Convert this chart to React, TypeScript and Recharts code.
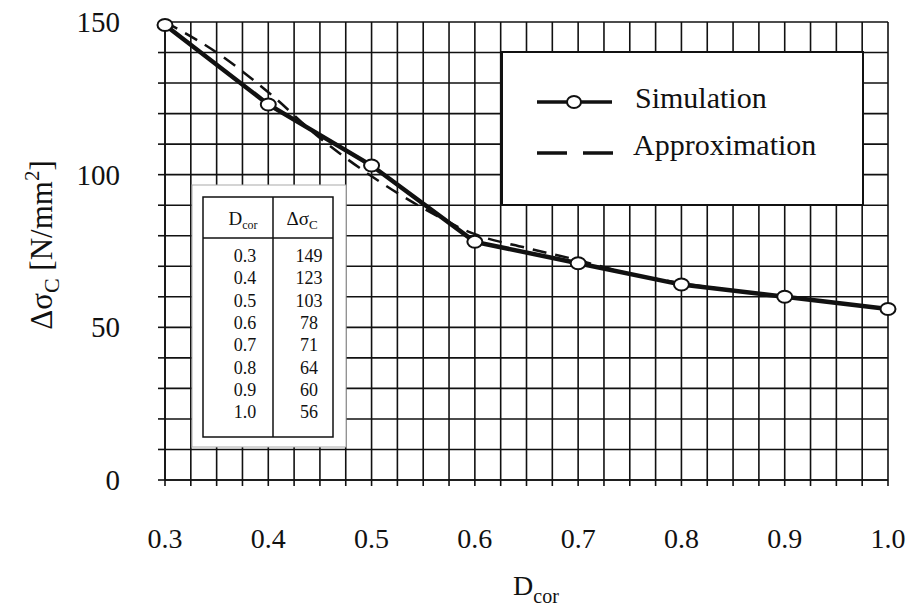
import { LineChart, Line, XAxis, YAxis, CartesianGrid } from 'recharts'

// simulated crack-stress values per D_cor
const dCor = [0.3, 0.4, 0.5, 0.6, 0.7, 0.8, 0.9, 1.0]
const simulation = [149, 123, 103, 78, 71, 64, 60, 56]

// fitted approximation curve
const approxD = [0.3, 0.35, 0.4, 0.45, 0.5, 0.55, 0.6, 0.65, 0.7, 0.75, 0.8, 0.85, 0.9, 0.95, 1.0]
const approximation = [150, 140, 127, 112, 99.5, 89, 80.5, 76, 72, 67.5, 64.5, 62, 60, 58, 56]

// labelled ticks
const xLabels = [0.3, 0.4, 0.5, 0.6, 0.7, 0.8, 0.9, 1.0]
const yLabels = [0, 50, 100, 150]

// grid spacing: 0.025 in x, 10 in y
const xGrid = Array.from({ length: 29 }, (_, i) => Math.round((0.3 + i * 0.025) * 1000) / 1000)
const yGrid = Array.from({ length: 16 }, (_, i) => i * 10)

const simData = dCor.map((x, i) => ({ x, y: simulation[i] }))
const approxData = approxD.map((x, i) => ({ x, y: approximation[i] }))

const FONT = '"Liberation Serif", "Times New Roman", serif'
const INK = '#111'
const serif = { fontFamily: FONT }

function XTick({ x, y, payload }: any) {
  const v = payload.value
  if (!xLabels.some((l) => Math.abs(l - v) < 1e-6)) return <g />
  return (
    <text x={x} y={y + 62} textAnchor="middle" style={serif} fontSize={28} fill={INK}>
      {v.toFixed(1)}
    </text>
  )
}

function YTick({ x, y, payload }: any) {
  const v = payload.value
  if (!yLabels.includes(v)) return <g />
  return (
    <text x={x - 38} y={y} dy={10} textAnchor="end" style={serif} fontSize={29} fill={INK}>
      {v}
    </text>
  )
}

function SimDot({ cx, cy }: any) {
  return <ellipse cx={cx} cy={cy} rx={7.5} ry={6} fill="#fff" stroke={INK} strokeWidth={2} />
}

function Overlay() {
  return (
    <svg width={908} height={609} style={{ position: 'absolute', left: 0, top: 0, pointerEvents: 'none', ...serif }}>
      {/* axis titles */}
      <text transform="translate(52,245) rotate(-90)" textAnchor="middle" style={serif} fontSize={31} fill={INK}>
        Δσ<tspan fontSize={22} dy={7}>C</tspan>
        <tspan dy={-7}>{'  [N/mm'}</tspan>
        <tspan fontSize={21} dy={-13}>2</tspan>
        <tspan dy={13}>]</tspan>
      </text>
      <text x={536} y={595} textAnchor="middle" style={serif} fontSize={28} fill={INK}>
        D<tspan fontSize={20} dy={8}>cor</tspan>
      </text>

      {/* legend */}
      <rect x={502} y={52} width={361} height={153} fill="#fff" stroke={INK} strokeWidth={2} />
      <line x1={537} x2={612} y1={102} y2={102} stroke={INK} strokeWidth={3.5} />
      <ellipse cx={574} cy={102} rx={7} ry={6} fill="#fff" stroke={INK} strokeWidth={2} />
      <text x={635} y={108} style={serif} fontSize={30} fill={INK}>Simulation</text>
      <line x1={537} x2={613} y1={153} y2={153} stroke={INK} strokeWidth={3.5} strokeDasharray="30 16" />
      <text x={633} y={155} style={serif} fontSize={30} fill={INK}>Approximation</text>

      {/* value table */}
      <rect x={192} y={185} width={154} height={262} fill="#fff" stroke="#aaa" strokeWidth={1} />
      <rect x={203} y={197} width={130} height={240} fill="#fff" stroke={INK} strokeWidth={1.5} />
      <line x1={273} x2={273} y1={197} y2={437} stroke={INK} strokeWidth={1.5} />
      <line x1={203} x2={333} y1={238} y2={238} stroke={INK} strokeWidth={1.5} />
      <text x={243} y={225} textAnchor="middle" style={serif} fontSize={19} fill={INK}>
        D<tspan fontSize={12} dy={4}>cor</tspan>
      </text>
      <text x={302} y={225} textAnchor="middle" style={serif} fontSize={19} fill={INK}>
        Δσ<tspan fontSize={13} dy={4}>C</tspan>
      </text>
      {dCor.map((d, i) => (
        <g key={d} style={serif} fontSize={18} fill={INK}>
          <text x={245} y={262 + i * 22.3} textAnchor="middle">{d.toFixed(1)}</text>
          <text x={309} y={262 + i * 22.3} textAnchor="middle">{simulation[i]}</text>
        </g>
      ))}
    </svg>
  )
}

export default function App() {
  return (
    <div style={{ position: 'absolute', left: 0, top: 0, width: 908, height: 609, background: '#fff', ...serif }}>
      <LineChart width={908} height={609} margin={{ top: 22, right: 20, bottom: 29, left: 65 }}>
        <CartesianGrid stroke={INK} strokeWidth={1.6} />
        <XAxis
          type="number"
          dataKey="x"
          domain={[0.3, 1.0]}
          ticks={xGrid}
          interval={0}
          height={100}
          tickSize={6}
          tickMargin={0}
          axisLine={{ stroke: INK, strokeWidth: 1.6 }}
          tickLine={{ stroke: INK, strokeWidth: 1.6 }}
          tick={<XTick />}
          allowDuplicatedCategory={false}
        />
        <YAxis
          type="number"
          domain={[0, 150]}
          ticks={yGrid}
          interval={0}
          width={100}
          tickSize={7}
          tickMargin={0}
          axisLine={{ stroke: INK, strokeWidth: 1.6 }}
          tickLine={{ stroke: INK, strokeWidth: 1.6 }}
          tick={<YTick />}
        />
        <Line
          data={approxData}
          dataKey="y"
          type="monotone"
          stroke={INK}
          strokeWidth={2.5}
          strokeDasharray="14 9"
          dot={false}
          isAnimationActive={false}
        />
        <Line
          data={simData}
          dataKey="y"
          type="linear"
          stroke={INK}
          strokeWidth={4.5}
          dot={<SimDot />}
          isAnimationActive={false}
        />
      </LineChart>
      <Overlay />
    </div>
  )
}
